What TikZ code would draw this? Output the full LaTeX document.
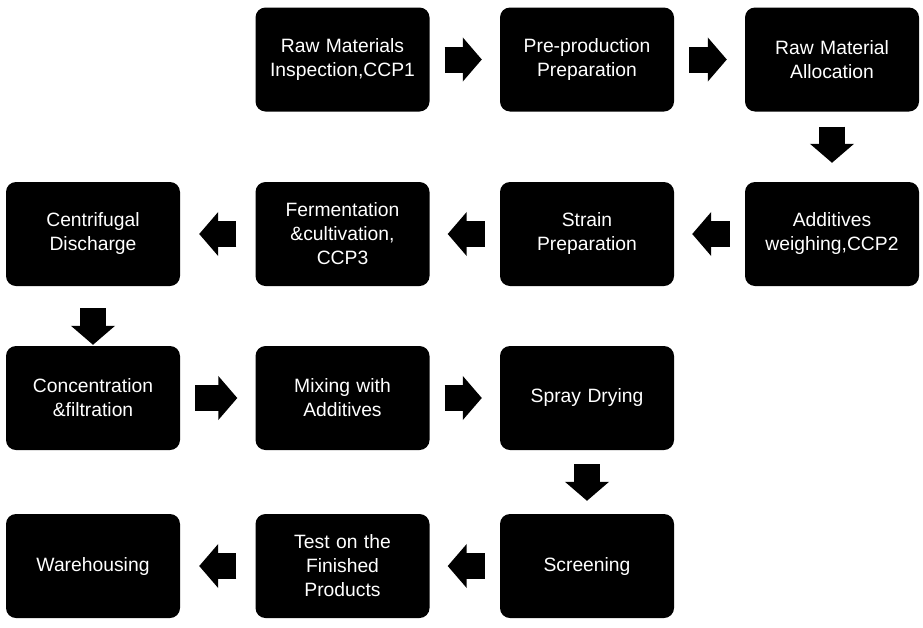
\documentclass[tikz,border=0pt]{standalone}
\usepackage{fontspec}
\setmainfont{Liberation Sans}
\usetikzlibrary{arrows.meta}
\begin{document}
\begin{tikzpicture}[x=1pt,y=-1pt,
  stepbox/.style={fill=black, rounded corners=10pt, minimum width=174pt, minimum height=104pt,
    text width=170pt, align=center, text=white, inner sep=0pt,
    font=\fontsize{19.3}{24}\selectfont},
  blockarrow/.style={line width=26pt, -{Triangle[width=43pt,length=19pt]}},
  hshort/.style={shorten <=15pt, shorten >=18pt},
  vshort/.style={shorten <=15pt, shorten >=19pt}]
\useasboundingbox (0,0) rectangle (923,627);
% row 1
\node[stepbox] (a1) at (342.5,59.5) {Raw Materials\\Inspection,CCP1};
\node[stepbox] (a2) at (587,59.5) {Pre-production\\Preparation};
\node[stepbox] (a3) at (832,59.5) {Raw Material\\Allocation};
% row 2
\node[stepbox] (b4) at (832,234) {Additives\\weighing,CCP2};
\node[stepbox] (b3) at (587,234) {Strain\\Preparation};
\node[stepbox] (b2) at (342.5,234) {Fermentation\\\&cultivation,\\CCP3};
\node[stepbox] (b1) at (93,234) {Centrifugal\\Discharge};
% row 3
\node[stepbox] (c1) at (93,398) {Concentration\\\&filtration};
\node[stepbox] (c2) at (342.5,398) {Mixing with\\Additives};
\node[stepbox] (c3) at (587,398) {Spray Drying};
% row 4
\node[stepbox] (d3) at (587,566) {Screening};
\node[stepbox] (d2) at (342.5,566) {Test on the\\Finished\\Products};
\node[stepbox] (d1) at (93,566) {Warehousing};
% arrows
\draw[blockarrow,hshort] (a1.east) -- (a2.west);
\draw[blockarrow,hshort] (a2.east) -- (a3.west);
\draw[blockarrow,vshort] (a3.south) -- (b4.north);
\draw[blockarrow,hshort] (b4.west) -- (b3.east);
\draw[blockarrow,hshort] (b3.west) -- (b2.east);
\draw[blockarrow,shorten <=19pt, shorten >=19pt] (b2.west) -- (b1.east);
\draw[blockarrow,shorten <=22pt, shorten >=1pt] (b1.south) -- (c1.north);
\draw[blockarrow,hshort] (c1.east) -- (c2.west);
\draw[blockarrow,hshort] (c2.east) -- (c3.west);
\draw[blockarrow,shorten <=14pt, shorten >=13pt] (c3.south) -- (d3.north);
\draw[blockarrow,hshort] (d3.west) -- (d2.east);
\draw[blockarrow,shorten <=19pt, shorten >=19pt] (d2.west) -- (d1.east);
\end{tikzpicture}
\end{document}
